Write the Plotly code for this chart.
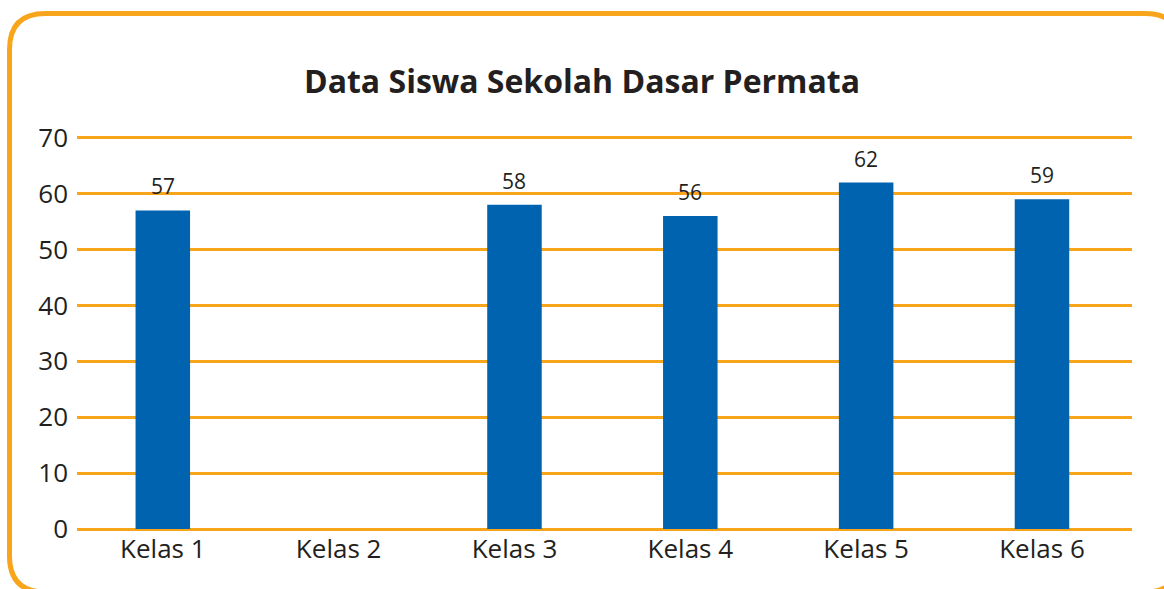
import plotly.graph_objects as go

# Jumlah siswa per kelas
kelas = ["Kelas 1", "Kelas 2", "Kelas 3", "Kelas 4", "Kelas 5", "Kelas 6"]
jumlah_siswa = [57, None, 58, 56, 62, 59]
y_ticks = [0, 10, 20, 30, 40, 50, 60, 70]

ORANGE = "#F8A51C"
BLUE = "#0063B0"
TEXT = "#231F20"
FONT = "Open Sans"

W, H = 1164, 589
L, R, T, B = 77, 32, 135, 60
plot_w = W - L - R
plot_h = H - T - B


def px(x):
    return (x - L) / plot_w


def py(y):
    return (H - B - y) / plot_h


fig = go.Figure()
fig.add_trace(go.Bar(
    x=kelas,
    y=jumlah_siswa,
    marker=dict(color=BLUE, line=dict(width=0)),
    width=0.31,
    hoverinfo="x+y",
))

# value labels above each bar
for k, v in zip(kelas, jumlah_siswa):
    if v is None:
        continue
    fig.add_annotation(
        x=k, y=v, text=str(v), showarrow=False,
        yanchor="bottom", yshift=8,
        font=dict(family=FONT, size=21, color=TEXT),
    )

# rounded orange frame around the chart
x0, x1, y0, y1, r = 9.5, 1181, 13.5, 592, 36
frame = (
    f"M {px(x0 + r)} {py(y0)} L {px(x1 - r)} {py(y0)} "
    f"Q {px(x1)} {py(y0)} {px(x1)} {py(y0 + r)} "
    f"L {px(x1)} {py(y1 - r)} Q {px(x1)} {py(y1)} {px(x1 - r)} {py(y1)} "
    f"L {px(x0 + r)} {py(y1)} Q {px(x0)} {py(y1)} {px(x0)} {py(y1 - r)} "
    f"L {px(x0)} {py(y0 + r)} Q {px(x0)} {py(y0)} {px(x0 + r)} {py(y0)} Z"
)
fig.add_shape(type="path", path=frame, xref="paper", yref="paper",
              line=dict(color=ORANGE, width=5), layer="above")

fig.update_layout(
    width=W, height=H,
    margin=dict(l=L, r=R, t=T, b=B, pad=0),
    paper_bgcolor="white",
    plot_bgcolor="white",
    showlegend=False,
    bargap=0.69,
    title=dict(
        text="<b>Data Siswa Sekolah Dasar Permata</b>",
        x=0.5, xref="container", xanchor="center",
        y=1 - 82 / H, yref="container", yanchor="middle",
        font=dict(family=FONT, size=32, color=TEXT),
    ),
    font=dict(family=FONT, color=TEXT),
    xaxis=dict(
        range=[-0.488, 5.512],
        showgrid=False, showline=False, zeroline=False,
        tickfont=dict(family=FONT, size=26, color=TEXT),
        ticks="", ticklabelstandoff=2,
    ),
    yaxis=dict(
        range=[0, 70.5], tickvals=y_ticks,
        showgrid=True, gridcolor=ORANGE, gridwidth=2.5,
        zeroline=True, zerolinecolor=ORANGE, zerolinewidth=2.5,
        showline=False, ticks="",
        tickfont=dict(family=FONT, size=26, color=TEXT),
        ticklabelstandoff=8,
    ),
)

fig.write_html("out.html")
